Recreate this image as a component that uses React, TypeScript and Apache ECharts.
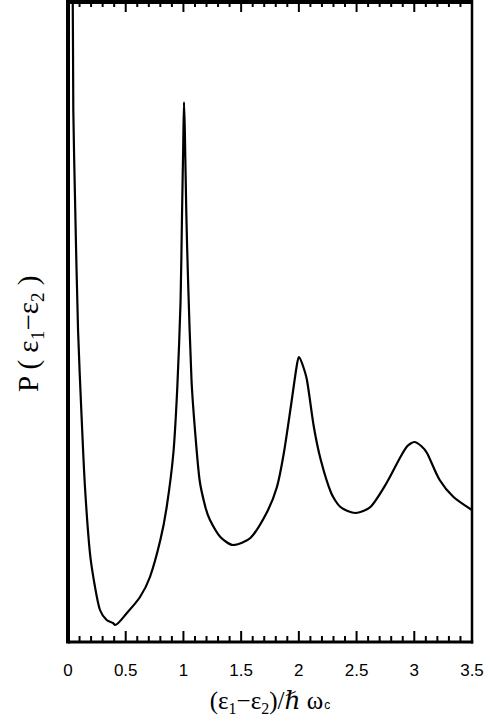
import React, { useEffect, useRef } from "react";
import * as echarts from "echarts";

const xValues = [
  0.025, 0.041, 0.046, 0.061, 0.087, 0.119, 0.147, 0.19, 0.234, 0.277, 0.335, 0.39, 0.407,
  0.51, 0.624, 0.71, 0.8, 0.855, 0.913, 0.947, 0.975, 0.988, 0.998, 1.005, 1.012, 1.025,
  1.04, 1.07, 1.1, 1.14, 1.19, 1.23, 1.32, 1.43, 1.58, 1.72, 1.81, 1.87, 1.93, 1.98, 2.0,
  2.03, 2.07, 2.13, 2.19, 2.28, 2.36, 2.49, 2.62, 2.76, 2.88, 2.94, 3.0, 3.06, 3.11, 3.22,
  3.34, 3.5,
];
const pValues = [
  720, 642, 532, 442, 312, 222, 155, 89, 55, 32, 22, 19, 17,
  29, 45, 65, 102, 135, 189, 255, 340, 429, 495, 540, 512, 429,
  362, 262, 212, 162, 135, 122, 105, 97, 104, 129, 155, 189, 235, 275, 285,
  278, 262, 215, 182, 149, 135, 129, 135, 159, 185, 196, 200, 196, 189, 162,
  145, 132,
];
const majorTicks = [0.5, 1, 1.5, 2, 2.5, 3];
const minorTicks = [
  0.1, 0.2, 0.3, 0.4, 0.6, 0.7, 0.8, 0.9, 1.1, 1.2, 1.3, 1.4, 1.6, 1.7, 1.8, 1.9,
  2.1, 2.2, 2.3, 2.4, 2.6, 2.7, 2.8, 2.9, 3.1, 3.2, 3.3, 3.4,
];
const X_MIN = 0;
const X_MAX = 3.5;
const Y_MIN = 0;
const Y_MAX = 640;
const xTitle = "{m|(ε}{s|1}{m|−ε}{s|2}{m|)/ℏ ω}{c|c}";
const yTitle = "{m|P ( ε}{s|1}{m|−ε}{s|2}{m| )}";

const serif = "'Liberation Serif', 'DejaVu Serif', serif";
const sans = "'Liberation Sans', Arial, sans-serif";

export default function App() {
  const ref = useRef<HTMLDivElement>(null);
  useEffect(() => {
    if (!ref.current) return;
    const chart = echarts.init(ref.current, null, { renderer: "svg" });
    const data = xValues.map((x, i) => [x, pValues[i]]);
    const tickData = [
      ...majorTicks.map((v) => [v, Y_MIN, 10]),
      ...minorTicks.map((v) => [v, Y_MIN, 5]),
    ];
    const blackLine = (x1: number, y1: number, x2: number, y2: number, w: number) => ({
      type: "line",
      shape: { x1, y1, x2, y2 },
      style: { stroke: "#000", lineWidth: w, fill: "none" },
    });
    chart.setOption({
      animation: false,
      grid: { left: 68, right: 26, top: 2, bottom: 79 },
      xAxis: {
        type: "value",
        min: X_MIN,
        max: X_MAX,
        interval: 0.5,
        axisLine: { show: false },
        axisTick: { show: false },
        splitLine: { show: false },
        axisLabel: { show: true, color: "#000", fontFamily: sans, fontSize: 17, margin: 20 },
      },
      yAxis: {
        type: "value",
        min: Y_MIN,
        max: Y_MAX,
        axisLine: { show: false },
        axisTick: { show: false },
        axisLabel: { show: false },
        splitLine: { show: false },
      },
      graphic: [
        {
          type: "text",
          x: 270,
          y: 700,
          style: {
            text: xTitle,
            align: "center",
            verticalAlign: "middle",
            rich: {
              m: { fontFamily: serif, fontSize: 25, fill: "#000", verticalAlign: "middle" },
              s: { fontFamily: serif, fontSize: 16, fill: "#000", verticalAlign: "middle", padding: [16, 0, 0, 0] },
              c: { fontFamily: sans, fontSize: 12, fill: "#000", verticalAlign: "middle", padding: [10, 0, 0, 1] },
            },
          },
        },
        {
          type: "text",
          x: 28,
          y: 334,
          rotation: Math.PI / 2,
          style: {
            text: yTitle,
            align: "center",
            verticalAlign: "middle",
            rich: {
              m: { fontFamily: serif, fontSize: 29, fill: "#000", verticalAlign: "middle" },
              s: { fontFamily: serif, fontSize: 19, fill: "#000", verticalAlign: "middle", padding: [18, 0, 0, 0] },
            },
          },
        },
      ],
      series: [
        {
          type: "line",
          data,
          showSymbol: false,
          smooth: 0.25,
          lineStyle: { color: "#000", width: 2.2 },
          z: 2,
        },
        {
          type: "custom",
          data: [[X_MIN, Y_MIN]],
          clip: false,
          silent: true,
          z: 4,
          encode: { x: 0, y: 1 },
          renderItem: (_params: any, api: any) => {
            const bl = api.coord([X_MIN, Y_MIN]);
            const tr = api.coord([X_MAX, Y_MAX]);
            return {
              type: "group",
              children: [
                blackLine(bl[0], tr[1], tr[0], tr[1], 4),
                blackLine(bl[0], bl[1], tr[0] + 1.25, bl[1], 3),
                blackLine(bl[0], tr[1] - 2, bl[0], bl[1] + 1.5, 4),
                blackLine(tr[0], tr[1] - 2, tr[0], bl[1] + 1.5, 2.5),
              ],
            };
          },
        },
        {
          type: "custom",
          data: tickData,
          clip: false,
          silent: true,
          z: 5,
          encode: { x: 0, y: 1 },
          renderItem: (_params: any, api: any) => {
            const v = api.value(0);
            const len = api.value(2);
            const bottom = api.coord([v, Y_MIN]);
            const top = api.coord([v, Y_MAX]);
            return {
              type: "group",
              children: [
                blackLine(bottom[0], bottom[1], bottom[0], bottom[1] - len - 1, 2),
                blackLine(top[0], top[1], top[0], top[1] + len, 2),
              ],
            };
          },
        },
      ],
    });
    return () => chart.dispose();
  }, []);
  return (
    <div
      ref={ref}
      style={{ position: "fixed", left: 0, top: 0, width: 498, height: 721, background: "#fff" }}
    />
  );
}
